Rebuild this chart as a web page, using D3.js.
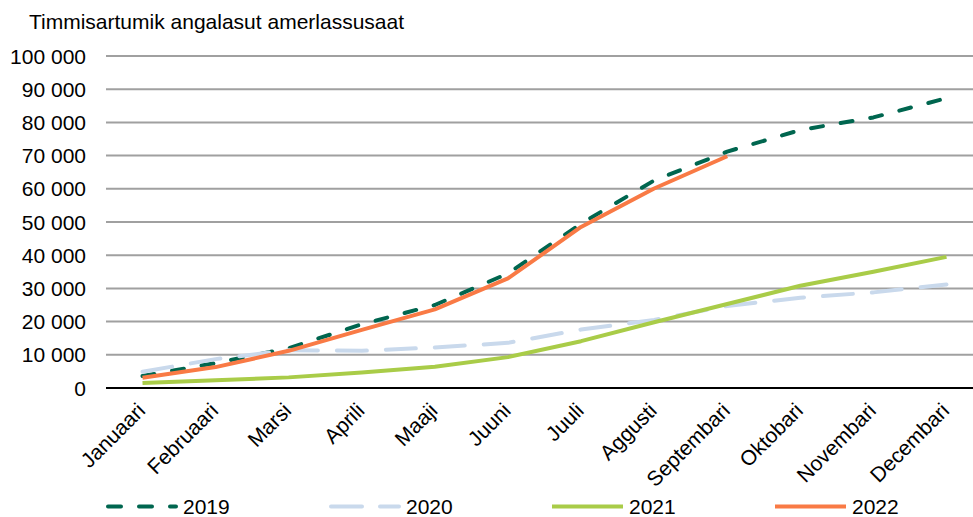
<!DOCTYPE html>
<html>
<head>
<meta charset="utf-8">
<script src="https://cdn.jsdelivr.net/npm/d3@7"></script>
<style>
  body { margin: 0; background: #fff; }
  text { font-family: "Liberation Sans", Arial, sans-serif; fill: #000; font-size: 21px; }
</style>
</head>
<body>
<svg width="973" height="517"></svg>
<script>
var months = ["Januaari", "Februaari", "Marsi", "Aprili", "Maaji", "Juuni", "Juuli",
  "Aggusti", "Septembari", "Oktobari", "Novembari", "Decembari"];

var y2019 = [3600, 7500, 12000, 19200, 25000, 34500, 49500, 62500, 71200, 77700, 81500, 87300];
var y2020 = [4900, 8700, 11400, 11200, 12200, 13600, 17600, 20500, 24700, 27200, 28800, 31200];
var y2021 = [1500, 2300, 3200, 4700, 6400, 9300, 14100, 19800, 25300, 30800, 35000, 39500];
var y2022 = [3100, 6300, 11200, 17500, 23700, 33000, 48500, 60100, 69800];

var yTicks = [0, 10000, 20000, 30000, 40000, 50000, 60000, 70000, 80000, 90000, 100000];

var series = [
  { name: "2019", values: y2019, color: "#00664f", dash: "12,18", legendDash: "13,18" },
  { name: "2020", values: y2020, color: "#c9d9ec", dash: "30,19", legendDash: "31,18" },
  { name: "2021", values: y2021, color: "#a9cc48", dash: null },
  { name: "2022", values: y2022, color: "#f97a45", dash: null }
];

var svg = d3.select("svg");

var x = d3.scalePoint().domain(months).range([142.5, 946.5]);
var y = d3.scaleLinear().domain([0, 100000]).range([388, 56]);

var fmt = function(v) { return d3.format(",")(v).replace(/,/g, " "); };

// title
svg.append("text")
  .attr("x", 29).attr("y", 29)
  .text("Timmisartumik angalasut amerlassusaat");

// gridlines
svg.append("g").selectAll("line")
  .data(yTicks.filter(function(d) { return d > 0; }))
  .enter().append("line")
    .attr("x1", 106).attr("x2", 973)
    .attr("y1", function(d) { return y(d); })
    .attr("y2", function(d) { return y(d); })
    .attr("stroke", "#a0a0a0")
    .attr("stroke-width", 2);

// y labels
svg.append("g").selectAll("text")
  .data(yTicks)
  .enter().append("text")
    .attr("x", 86)
    .attr("y", function(d) { return y(d) + 7.5; })
    .attr("text-anchor", "end")
    .text(fmt);

// lines
var line = d3.line()
  .x(function(d, i) { return x(months[i]); })
  .y(function(d) { return y(d); });

series.forEach(function(s) {
  svg.append("path")
    .datum(s.values)
    .attr("fill", "none")
    .attr("stroke", s.color)
    .attr("stroke-width", 4)
    .attr("stroke-dasharray", s.dash)
    .attr("stroke-linecap", s.dash ? "round" : "butt")
    .attr("stroke-linejoin", "round")
    .attr("d", line);
});

// zero axis
svg.append("line")
  .attr("x1", 106).attr("x2", 973)
  .attr("y1", y(0)).attr("y2", y(0))
  .attr("stroke", "#000")
  .attr("stroke-width", 2);

// x labels
svg.append("g").selectAll("text")
  .data(months)
  .enter().append("text")
    .attr("transform", function(d) { return "translate(" + (x(d) + 4) + ",412) rotate(-45)"; })
    .attr("text-anchor", "end")
    .text(function(d) { return d; });

// legend
var legX = [106, 329, 552, 775];
series.forEach(function(s, i) {
  var g = svg.append("g").attr("transform", "translate(" + legX[i] + ",506.5)");
  g.append("line")
    .attr("x1", s.dash ? 2 : 0).attr("x2", s.dash ? 70 : 71)
    .attr("stroke", s.color)
    .attr("stroke-width", 4)
    .attr("stroke-linecap", s.dash ? "round" : "butt")
    .attr("stroke-dasharray", s.legendDash || null);
  g.append("text")
    .attr("x", 77).attr("y", 7)
    .text(s.name);
});
</script>
</body>
</html>
